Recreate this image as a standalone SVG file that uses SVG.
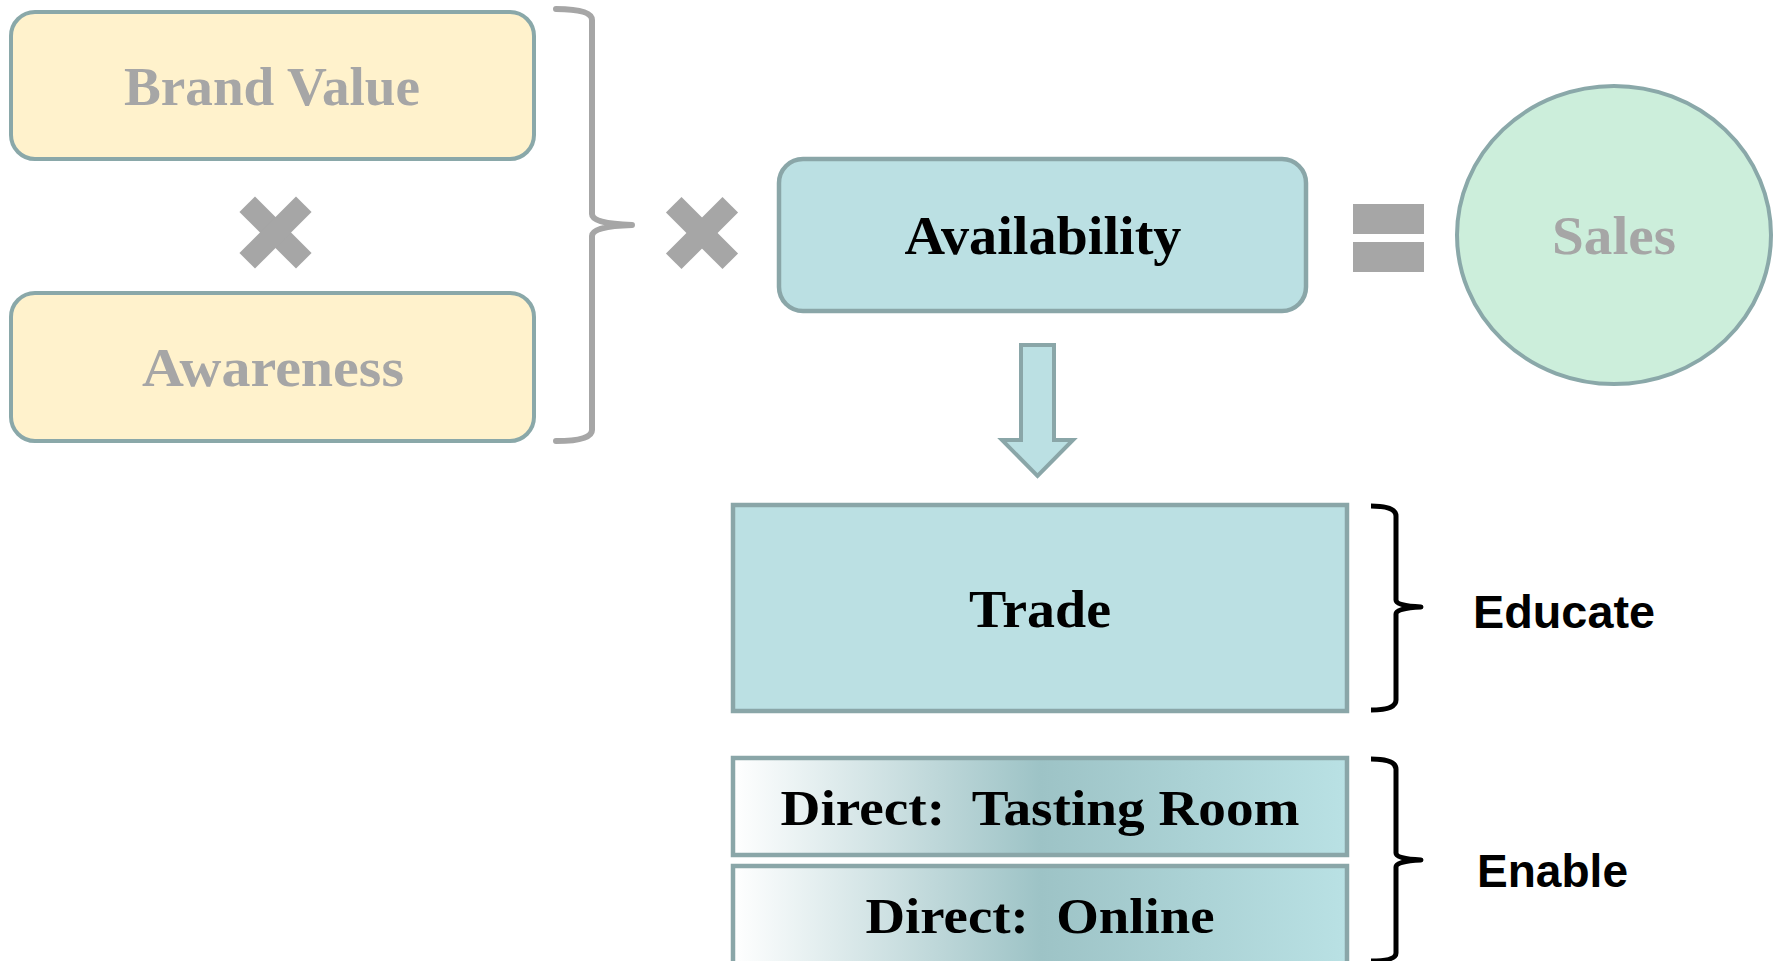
<svg xmlns="http://www.w3.org/2000/svg" width="1773" height="961" viewBox="0 0 1773 961">
  <defs>
    <linearGradient id="directFill" x1="0" y1="0" x2="1" y2="0">
      <stop offset="0" stop-color="#FFFFFF"/>
      <stop offset="0.5" stop-color="#9DC3C6"/>
      <stop offset="1" stop-color="#B9E1E4"/>
    </linearGradient>
    <style>
      .yellow { fill: #FFF2CC; stroke: #8AA8A9; stroke-width: 4; }
      .teal { fill: #BBE0E3; stroke: #8AA6A8; stroke-width: 4.5; }
      .direct { fill: url(#directFill); stroke: #8AA6A8; stroke-width: 4.5; }
      .serif { font-family: "Liberation Serif", "Times New Roman", serif; font-weight: bold; text-anchor: middle; }
      .dim { fill: #A6A6A6; }
      .dark { fill: #000000; }
      .sans { font-family: "Liberation Sans", Arial, sans-serif; font-weight: bold; font-size: 46px; fill: #000000; }
      .mark { fill: #A6A6A6; }
      .brace-gray { fill: none; stroke: #A6A6A6; stroke-width: 6; stroke-linecap: round; stroke-linejoin: round; }
      .brace-black { fill: none; stroke: #000000; stroke-width: 5; stroke-linejoin: round; }
    </style>
  </defs>

  <rect width="1773" height="961" fill="#FFFFFF"/>

  <!-- Brand Value -->
  <g id="brand-value">
    <rect class="yellow" x="11" y="12" width="523" height="147" rx="24"/>
    <text class="serif dim" x="272" y="105" font-size="54" textLength="296" lengthAdjust="spacingAndGlyphs">Brand Value</text>
  </g>

  <!-- multiply sign between the two yellow boxes -->
  <g id="times-1" class="mark" transform="translate(275.5 232.5) rotate(45)">
    <rect x="-40" y="-11" width="80" height="22"/>
    <rect x="-11" y="-40" width="22" height="80"/>
  </g>

  <!-- Awareness -->
  <g id="awareness">
    <rect class="yellow" x="11" y="293" width="523" height="148" rx="24"/>
    <text class="serif dim" x="273" y="386" font-size="54" textLength="262" lengthAdjust="spacingAndGlyphs">Awareness</text>
  </g>

  <!-- multiply sign before Availability -->
  <g id="times-2" class="mark" transform="translate(702 233) rotate(45)">
    <rect x="-40" y="-11" width="80" height="22"/>
    <rect x="-11" y="-40" width="22" height="80"/>
  </g>

  <!-- Availability -->
  <g id="availability">
    <rect class="teal" x="779" y="159" width="527" height="152" rx="24"/>
    <text class="serif dark" x="1043" y="254" font-size="54" textLength="277" lengthAdjust="spacingAndGlyphs">Availability</text>
  </g>

  <!-- equals sign -->
  <g id="equals" class="mark">
    <rect x="1353" y="204" width="71" height="30"/>
    <rect x="1353" y="242" width="71" height="30"/>
  </g>

  <!-- Sales -->
  <g id="sales">
    <ellipse cx="1614" cy="235" rx="157" ry="149" fill="#CCEEDB" stroke="#8AA8A9" stroke-width="4"/>
    <text class="serif dim" x="1614" y="254" font-size="54" textLength="124" lengthAdjust="spacingAndGlyphs">Sales</text>
  </g>

  <!-- Trade -->
  <g id="trade">
    <rect class="teal" x="733" y="505" width="614" height="206"/>
    <text class="serif dark" x="1040" y="627" font-size="52" textLength="142" lengthAdjust="spacingAndGlyphs">Trade</text>
  </g>

  <!-- Direct: Tasting Room -->
  <g id="direct-tasting-room">
    <rect class="direct" x="733" y="758" width="614" height="97"/>
    <text class="serif dark" x="1040" y="825" font-size="50" textLength="519" lengthAdjust="spacingAndGlyphs" xml:space="preserve">Direct:  Tasting Room</text>
  </g>

  <!-- Direct: Online -->
  <g id="direct-online">
    <rect class="direct" x="733" y="866" width="614" height="110"/>
    <text class="serif dark" x="1040" y="933" font-size="50" textLength="349" lengthAdjust="spacingAndGlyphs" xml:space="preserve">Direct:  Online</text>
  </g>

  <!-- Educate label -->
  <g id="educate">
    <text class="sans" x="1473" y="628" textLength="182" lengthAdjust="spacingAndGlyphs">Educate</text>
  </g>

  <!-- Enable label -->
  <g id="enable">
    <text class="sans" x="1477" y="887" textLength="151" lengthAdjust="spacingAndGlyphs">Enable</text>
  </g>

  <!-- connectors: braces and the down arrow -->
  <g id="connectors">
    <!-- gray brace grouping Brand Value and Awareness -->
    <path class="brace-gray" d="M556 9 Q592 9 592 20 L592 214 Q592 224 632 225 Q592 226 592 236 L592 430 Q592 441 556 441"/>
    <!-- black brace for Trade -->
    <path class="brace-black" d="M1371 506 Q1396 506 1396 516 L1396 600 Q1396 606 1421 607 Q1396 608 1396 614 L1396 700 Q1396 710 1371 710"/>
    <!-- black brace for the direct channels -->
    <path class="brace-black" d="M1371 759 Q1396 759 1396 769 L1396 853 Q1396 859 1421 860 Q1396 861 1396 867 L1396 953 Q1396 961 1371 961"/>
    <!-- block arrow from Availability down to Trade -->
    <path d="M1021 345 L1054 345 L1054 440 L1073 440 L1037.5 476 L1002 440 L1021 440 Z" fill="#BBE0E3" stroke="#8AA6A8" stroke-width="4" stroke-linejoin="miter"/>
  </g>
</svg>
